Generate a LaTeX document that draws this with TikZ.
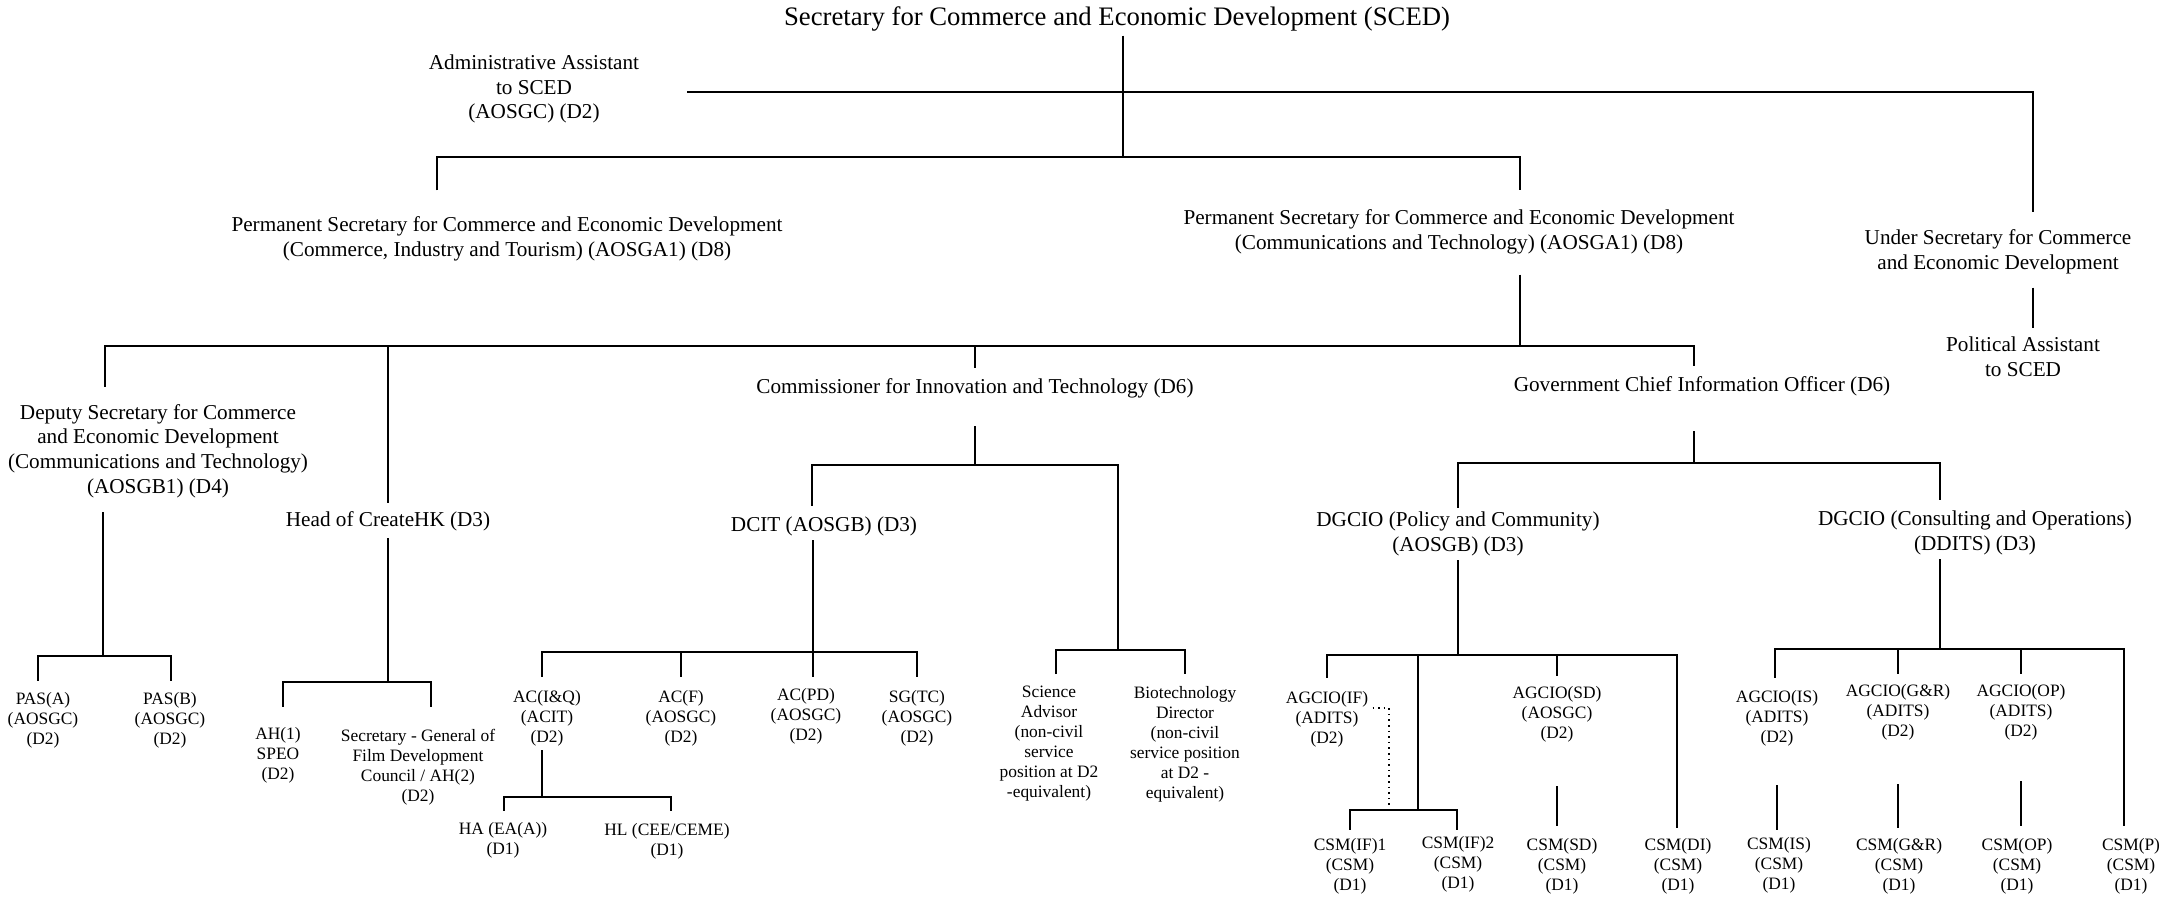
\documentclass[tikz,border=0pt]{standalone}
\usepackage{fontspec}
\setmainfont{Liberation Serif}
\newcommand{\headsize}{\fontsize{13.35}{16}\selectfont}
\newcommand{\postsize}{\fontsize{10.6}{12.4}\selectfont}
\newcommand{\rolesize}{\fontsize{8.7}{10}\selectfont}
\tikzstyle{head}=[font=\headsize, inner sep=2pt]
\tikzstyle{post}=[align=center, font=\postsize, inner sep=2pt]
\tikzstyle{role}=[align=center, font=\rolesize, inner sep=2pt]
\tikzstyle{edge} = [draw, line width=0.9pt]
\tikzstyle{link} = [draw, dotted, line width=0.8pt]
\begin{document}
\begin{tikzpicture}[x=0.5pt,y=-0.5pt]
    \useasboundingbox (0,0) rectangle (2177,897);

    \node[head] (sced) at (1117,19) {Secretary for Commerce and Economic Development (SCED)};
    \node[post] (aa) at (534,89) {Administrative Assistant\\to SCED\\(AOSGC) (D2)};
    \node[post] (psc) at (507,239) {Permanent Secretary for Commerce and Economic Development\\(Commerce, Industry and Tourism) (AOSGA1) (D8)};
    \node[post] (pst) at (1459,232) {Permanent Secretary for Commerce and Economic Development\\(Communications and Technology) (AOSGA1) (D8)};
    \node[post] (us) at (1998,252) {Under Secretary for Commerce\\and Economic Development};
    \node[post] (pa) at (2023,357) {Political Assistant\\to SCED};
    \node[post] (ds) at (158,451) {Deputy Secretary for Commerce\\and Economic Development\\(Communications and Technology)\\(AOSGB1) (D4)};
    \node[post] (chk) at (388,521) {Head of CreateHK (D3)};
    \node[post] (cit) at (975,388) {Commissioner for Innovation and Technology (D6)};
    \node[post] (gcio) at (1702,386) {Government Chief Information Officer (D6)};
    \node[post] (dcit) at (824,526) {DCIT (AOSGB) (D3)};
    \node[post] (dgpc) at (1458,534) {DGCIO (Policy and Community)\\(AOSGB) (D3)};
    \node[post] (dgco) at (1975,533) {DGCIO (Consulting and Operations)\\(DDITS) (D3)};

    \node[role] (pasa) at (43,720) {PAS(A)\\(AOSGC)\\(D2)};
    \node[role] (pasb) at (170,720) {PAS(B)\\(AOSGC)\\(D2)};
    \node[role] (ah1) at (278,755) {AH(1)\\SPEO\\(D2)};
    \node[role] (sgfdc) at (418,767) {Secretary - General of\\Film Development\\Council / AH(2)\\(D2)};
    \node[role] (aciq) at (547,718) {AC(I\&Q)\\(ACIT)\\(D2)};
    \node[role] (acf) at (681,718) {AC(F)\\(AOSGC)\\(D2)};
    \node[role] (acpd) at (806,716) {AC(PD)\\(AOSGC)\\(D2)};
    \node[role] (sgtc) at (917,718) {SG(TC)\\(AOSGC)\\(D2)};
    \node[role] (ha) at (503,840) {HA (EA(A))\\(D1)};
    \node[role] (hl) at (667,841) {HL (CEE/CEME)\\(D1)};
    \node[role] (sa) at (1049,744) {Science\\Advisor\\(non-civil\\service\\position at D2\\-equivalent)};
    \node[role] (bd) at (1185,744) {Biotechnology\\Director\\(non-civil\\service position\\at D2 -\\equivalent)};
    \node[role] (agif) at (1327,719) {AGCIO(IF)\\(ADITS)\\(D2)};
    \node[role] (agsd) at (1557,714) {AGCIO(SD)\\(AOSGC)\\(D2)};
    \node[role] (agis) at (1777,718) {AGCIO(IS)\\(ADITS)\\(D2)};
    \node[role] (aggr) at (1898,712) {AGCIO(G\&R)\\(ADITS)\\(D2)};
    \node[role] (agop) at (2021,712) {AGCIO(OP)\\(ADITS)\\(D2)};
    \node[role] (csmif1) at (1350,866) {CSM(IF)1\\(CSM)\\(D1)};
    \node[role] (csmif2) at (1458,864) {CSM(IF)2\\(CSM)\\(D1)};
    \node[role] (csmsd) at (1562,866) {CSM(SD)\\(CSM)\\(D1)};
    \node[role] (csmdi) at (1678,866) {CSM(DI)\\(CSM)\\(D1)};
    \node[role] (csmis) at (1779,865) {CSM(IS)\\(CSM)\\(D1)};
    \node[role] (csmgr) at (1899,866) {CSM(G\&R)\\(CSM)\\(D1)};
    \node[role] (csmop) at (2017,866) {CSM(OP)\\(CSM)\\(D1)};
    \node[role] (csmp) at (2131,866) {CSM(P)\\(CSM)\\(D1)};

    \coordinate (b1l) at (437,157);
    \coordinate (b1m) at (1123,157);
    \coordinate (b1r) at (1520,157);
    \coordinate (aal) at (687,92);
    \coordinate (aar) at (2033,92);
    \coordinate (b2l) at (105,346);
    \coordinate (b2m) at (1520,346);
    \coordinate (b2r) at (1694,346);
    \coordinate (b3l) at (812,465);
    \coordinate (b3r) at (1118,465);
    \coordinate (b4l) at (1056,650);
    \coordinate (b4m) at (1118,650);
    \coordinate (b4r) at (1185,650);
    \coordinate (b5l) at (542,652);
    \coordinate (b5m) at (813,652);
    \coordinate (b5r) at (917,652);
    \coordinate (b6l) at (504,797);
    \coordinate (b6m) at (542,797);
    \coordinate (b6r) at (671,797);
    \coordinate (b7l) at (38,656);
    \coordinate (b7m) at (103,656);
    \coordinate (b7r) at (171,656);
    \coordinate (b8l) at (283,682);
    \coordinate (b8r) at (431,682);
    \coordinate (b9l) at (1458,463);
    \coordinate (b9m) at (1694,463);
    \coordinate (b9r) at (1940,463);
    \coordinate (b10l) at (1327,655);
    \coordinate (b10m) at (1418,655);
    \coordinate (b10r) at (1677,655);
    \coordinate (b11l) at (1350,810);
    \coordinate (b11m) at (1418,810);
    \coordinate (b11r) at (1457,810);
    \coordinate (b12l) at (1775,649);
    \coordinate (b12m) at (1940,649);
    \coordinate (b12r) at (2124,649);
    \coordinate (dl) at (1389,708);

    \path[edge] (sced.south -| b1m) -- (b1m);
    \path[edge, shorten <=11pt, shorten >=7.5pt] (b1l |- psc.north) -- (b1l) -- (b1r) -- (b1r |- pst.north);
    \path[edge, shorten >=6.5pt] (aal) -- (aar) -- (aar |- us.north);
    \path[edge, shorten <=4.5pt, shorten >=2.5pt] (us.south -| aar) -- (pa.north -| aar);

    \path[edge, shorten <=8pt] (pst.south -| b2m) -- (b2m);
    \path[edge, shorten <=6.5pt, shorten >=3pt] (b2l |- ds.north) -- (b2l) -- (b2r) -- (b2r |- gcio.north);
    \path[edge, shorten >=2pt] (chk.north |- b2l) -- (chk.north);
    \path[edge, shorten >=3pt] (cit.north |- b2l) -- (cit.north);

    \path[edge, shorten <=5pt] (ds.south -| b7m) -- (b7m);
    \path[edge, shorten <=3.4pt, shorten >=3.4pt] (b7l |- pasa.north) -- (b7l) -- (b7r) -- (b7r |- pasb.north);
    \path[edge, shorten <=1.5pt] (chk.south) -- (chk.south |- b8l);
    \path[edge, shorten <=7.9pt, shorten >=8.9pt] (b8l |- ah1.north) -- (b8l) -- (b8r) -- (b8r |- sgfdc.north);

    \path[edge, shorten <=12pt] (cit.south) -- (cit.south |- b3l);
    \path[edge, shorten <=3pt] (b3l |- dcit.north) -- (b3l) -- (b3r) -- (b4m);
    \path[edge, shorten <=3.9pt, shorten >=3.9pt] (b4l |- sa.north) -- (b4l) -- (b4r) -- (b4r |- bd.north);
    \path[edge, shorten >=3.4pt] (dcit.south -| b5m) -- (b5m |- acpd.north);
    \path[edge, shorten <=4.4pt, shorten >=4.4pt] (b5l |- aciq.north) -- (b5l) -- (b5r) -- (b5r |- sgtc.north);
    \path[edge, shorten >=4.4pt] (acf.north |- b5l) -- (acf.north);
    \path[edge] (aciq.south -| b6m) -- (b6m);
    \path[edge, shorten <=3.4pt, shorten >=3.9pt] (b6l |- ha.north) -- (b6l) -- (b6r) -- (b6r |- hl.north);

    \path[edge, shorten <=15.5pt] (gcio.south -| b9m) -- (b9m);
    \path[edge, shorten >=3.2pt] (b9l |- dgpc.north) -- (b9l) -- (b9r) -- (b9r |- dgco.north);
    \path[edge] (dgpc.south) -- (b10l -| dgpc.south);
    \path[edge, shorten <=4.4pt, shorten >=2.9pt] (b10l |- agif.north) -- (b10l) -- (b10r) -- (b10r |- csmdi.north);
    \path[edge, shorten >=2.9pt] (agsd.north |- b10l) -- (agsd.north);
    \path[edge] (b10m) -- (b11m);
    \path[edge, shorten <=1.9pt, shorten >=0.9pt] (b11l |- csmif1.north) -- (b11l) -- (b11r) -- (b11r |- csmif2.north);
    \path[link] (agif.east |- dl) -- (dl) -- (dl |- b11l);
    \path[edge, shorten <=20pt, shorten >=3.9pt] (agsd.south) -- (agsd.south |- csmsd.north);

    \path[edge] (dgco.south -| b12m) -- (b12m);
    \path[edge, shorten <=3.9pt, shorten >=3.9pt] (b12l |- agis.north) -- (b12l) -- (b12r) -- (b12r |- csmp.north);
    \path[edge, shorten >=2.9pt] (aggr.north |- b12l) -- (aggr.north);
    \path[edge, shorten >=2.9pt] (agop.north |- b12l) -- (agop.north);
    \path[edge, shorten <=17.5pt, shorten >=1.4pt] (agis.south) -- (agis.south |- csmis.north);
    \path[edge, shorten <=20pt, shorten >=2.9pt] (aggr.south) -- (aggr.south |- csmgr.north);
    \path[edge, shorten <=18.5pt, shorten >=3.9pt] (agop.south) -- (agop.south |- csmop.north);
\end{tikzpicture}
\end{document}
